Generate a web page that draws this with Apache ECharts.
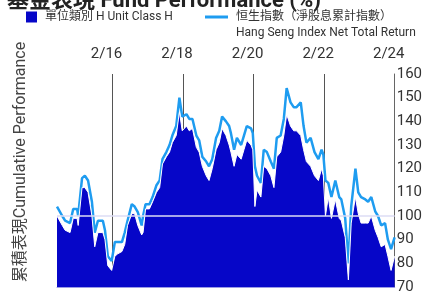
<!DOCTYPE html>
<html>
<head>
<meta charset="utf-8">
<script src="https://cdn.jsdelivr.net/npm/echarts@6/dist/echarts.min.js"></script>
<style>
html, body { margin: 0; padding: 0; background: #fff; }
#chart_fund_perf { width: 425px; height: 296px; }
</style>
</head>
<body>
<div id="chart_fund_perf"></div>
<script>
// dates as decimal years
var dates = [2014.51, 2014.66, 2014.74, 2014.88, 2014.97, 2015.08, 2015.11, 2015.22, 2015.30, 2015.39,
    2015.50, 2015.58, 2015.67, 2015.81, 2015.87, 2015.95, 2016.06, 2016.15, 2016.23, 2016.35,
    2016.43, 2016.51, 2016.63, 2016.71, 2016.80, 2016.91, 2016.95, 2017.02, 2017.13, 2017.22,
    2017.33, 2017.42, 2017.50, 2017.61, 2017.70, 2017.78, 2017.89, 2017.98, 2018.06, 2018.18,
    2018.26, 2018.35, 2018.46, 2018.54, 2018.63, 2018.74, 2018.82, 2018.91, 2019.02, 2019.11,
    2019.19, 2019.30, 2019.39, 2019.44, 2019.53, 2019.61, 2019.73, 2019.81, 2019.89, 2020.01,
    2020.06, 2020.12, 2020.18, 2020.29, 2020.37, 2020.46, 2020.57, 2020.66, 2020.74, 2020.85,
    2020.94, 2021.02, 2021.13, 2021.22, 2021.30, 2021.42, 2021.50, 2021.58, 2021.70, 2021.81,
    2021.92, 2022.01, 2022.06, 2022.12, 2022.20, 2022.29, 2022.40, 2022.51, 2022.57, 2022.68,
    2022.77, 2022.85, 2022.97, 2023.05, 2023.13, 2023.25, 2023.33, 2023.42, 2023.53, 2023.61,
    2023.70, 2023.81, 2023.89, 2023.98, 2024.08];
var fund = [100, 96, 94, 93, 99, 99, 96, 112, 112, 110,
    100, 87, 93, 93, 90, 79, 77, 83, 84, 85,
    88, 96, 101, 101, 96, 92, 93, 103, 103, 106,
    110, 112, 122, 125, 127, 131, 134, 144, 136, 138,
    136, 137, 129, 127, 121, 117, 115, 120, 128, 131,
    137, 134, 130, 127, 121, 126, 124, 128, 132, 130,
    128, 104, 111, 108, 121, 120, 117, 112, 125, 127,
    134, 143, 138, 136, 136, 134, 128, 123, 121, 117,
    115, 120, 117, 100, 108, 99, 107, 99, 98, 91,
    73, 97, 108, 101, 97, 97, 97, 100, 94, 91,
    87, 88, 83, 77, 83];
var hsi = [104, 100, 98, 97, 103, 103, 100, 116, 117, 115,
    106, 93, 98, 98, 94, 83, 81, 89, 89, 89,
    93, 98, 105, 104, 101.6, 96, 100, 105, 105, 108,
    113, 115, 124, 127, 130, 134, 138, 150, 142, 143,
    141, 141, 134, 132, 125, 123, 121, 124, 133, 136,
    142, 140, 138, 135, 128, 133, 130, 134, 138, 137,
    135, 121, 117, 114, 128, 127, 123, 120, 133, 134,
    141, 154, 148, 146, 146, 148, 138, 131, 133, 127,
    124, 128, 126, 115, 114, 108, 115, 108, 107, 99,
    80, 104, 120, 110, 108, 107, 106, 108, 102, 100,
    96, 97, 90, 86, 91];
var xTicks = [2016.0833, 2018.0833, 2020.0833, 2022.0833, 2024.0833];

var fundData = dates.map(function (d, i) { return [d, fund[i]]; });
var hsiData = dates.map(function (d, i) { return [d, hsi[i]]; });

var chart = echarts.init(document.getElementById('chart_fund_perf'));
chart.setOption({
    animation: false,
    textStyle: { fontFamily: "Roboto, 'Noto Sans CJK TC', sans-serif" },
    grid: { left: 57, right: 28, top: 74, bottom: 9 },
    legend: [
        {
            data: ['單位類別 H Unit Class H'],
            left: 26, top: 11, padding: 0,
            itemWidth: 11, itemHeight: 11, icon: 'rect',
            textStyle: { fontSize: 12, color: '#333', padding: [0, 0, 0, 3] }
        },
        {
            data: ['恒生指數（淨股息累計指數）'],
            left: 205, top: 11, padding: 0,
            itemWidth: 23, itemHeight: 3, icon: 'rect',
            textStyle: { fontSize: 12, color: '#333', padding: [0, 0, 0, 3] }
        }
    ],
    graphic: [
        {
            type: 'text', x: 7, y: 13,
            style: {
                text: '基金表現 Fund Performance (%)',
                font: "bold 22px Roboto, 'Noto Sans CJK TC'",
                fill: '#222', textVerticalAlign: 'bottom'
            }
        },
        {
            type: 'text', x: 236, y: 27,
            style: {
                text: 'Hang Seng Index Net Total Return',
                font: "12px Roboto, 'Noto Sans CJK TC'",
                fill: '#333'
            }
        },
        {
            type: 'text', x: 21, y: 162, rotation: Math.PI / 2,
            style: {
                text: '累積表現Cumulative Performance',
                font: "16px Roboto, 'Noto Sans CJK TC'",
                fill: '#444', textAlign: 'center', textVerticalAlign: 'middle'
            }
        }
    ],
    xAxis: [
        {
            type: 'value',
            position: 'top',
            min: 2014.51,
            max: 2024.0833,
            axisLine: { show: false },
            axisTick: { show: false, customValues: xTicks },
            splitLine: { show: true, lineStyle: { color: '#555', width: 1 } },
            axisLabel: {
                customValues: xTicks,
                margin: 12,
                fontSize: 15,
                color: '#333',
                padding: [0, 12, 0, 0],
                formatter: function (v) { return '2/' + (Math.round(v) % 100); }
            }
        },
        {
            type: 'value',
            position: 'bottom',
            min: 2014.51,
            max: 2024.0833,
            axisLine: { show: true, lineStyle: { color: '#9a9ae6', width: 1 } },
            axisTick: { show: false },
            axisLabel: { show: false },
            splitLine: { show: false }
        }
    ],
    yAxis: {
        type: 'value',
        position: 'right',
        min: 70,
        max: 160,
        interval: 10,
        axisLine: { show: true, lineStyle: { color: '#666', width: 1 } },
        axisTick: { show: false },
        splitLine: { show: false },
        axisLabel: { margin: 2, fontSize: 15, color: '#333' }
    },
    series: [
        {
            name: '恒生指數（淨股息累計指數）',
            type: 'line',
            data: hsiData,
            showSymbol: false,
            color: '#1e9cf0',
            lineStyle: { color: '#1e9cf0', width: 2.5 },
            z: 2
        },
        {
            name: '單位類別 H Unit Class H',
            type: 'line',
            data: fundData,
            showSymbol: false,
            color: '#0606c8',
            lineStyle: { color: '#ffffff', width: 1 },
            areaStyle: { color: '#0606c8', opacity: 1, origin: 'start' },
            z: 3,
            markLine: {
                silent: true,
                symbol: 'none',
                label: { show: false },
                lineStyle: { color: '#dcdcf4', width: 1.5, type: 'solid' },
                data: [{ yAxis: 100 }]
            }
        }
    ]
});
</script>
</body>
</html>
